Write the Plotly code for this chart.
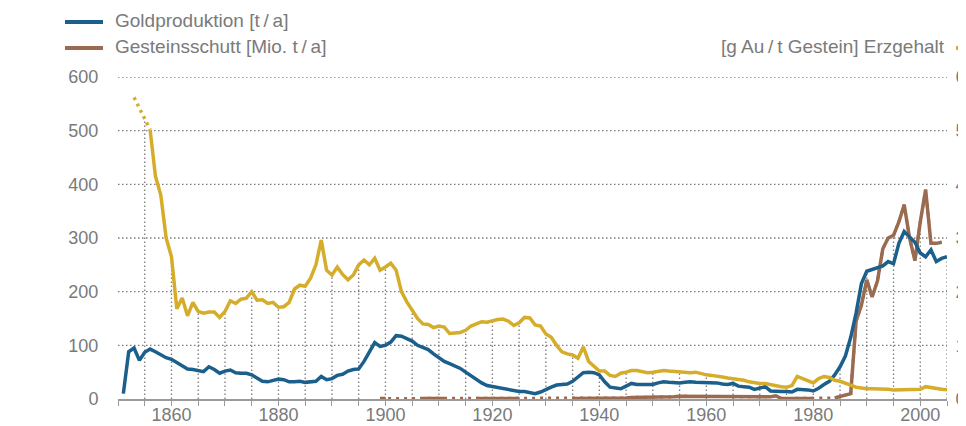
import plotly.graph_objects as go

# Goldproduktion [t/a], 1851-2005
gold_years = list(range(1851, 2006))
gold = [10, 88, 95, 72, 87, 93, 88, 82, 77, 74,
        68, 62, 56, 55, 53, 51, 60, 55, 48, 52,
        54, 49, 48, 48, 45, 39, 33, 32, 34, 37,
        36, 32, 32, 33, 31, 32, 33, 42, 36, 38,
        44, 46, 52, 55, 56, 70, 88, 105, 98, 100,
        106, 118, 117, 113, 108, 100, 96, 92, 84, 76,
        70, 66, 62, 57, 50, 43, 36, 30, 25, 23,
        21, 20, 18, 16, 14, 14, 12, 10, 13, 18,
        22, 26, 27, 28, 33, 42, 49, 50, 49, 45,
        32, 22, 20, 19, 24, 29, 27, 27, 26, 27,
        30, 32, 31, 30, 30, 31, 32, 31, 31, 31,
        31, 30, 28, 27, 29, 24, 23, 22, 18, 20,
        23, 15, 14, 14, 14, 13, 18, 18, 17, 15,
        20, 27, 33, 45, 60, 80, 115, 160, 215, 238,
        241, 244, 248, 256, 252, 290, 312, 302, 292, 272,
        265, 278, 256, 262, 265]

# Gesteinsschutt [Mio. t/a], 1898-2005 (None = keine Daten)
rock_years = list(range(1898, 2006))
rock = [None, 1, 1, None, None, None, None, None, None, 1,
        1, 1, 1, 1, None, None, None, None, None, 1,
        1, 1, 1, 1, 1, 1, 1, 1, None, None,
        None, None, None, None, None, None, None, 1, 1, 1,
        1, 2, 2, 2, 2, 2, 2, 2, 3, 3,
        3, 3, 3, 4, 4, 4, 4, 5, 5, 5,
        5, 5, 5, 5, 5, 5, 5, 5, 4, 4,
        4, 4, 4, 4, 4, 6, 1, 1, 1, 1,
        1, 1, 1, None, None, None, 2, 5, 8, 10,
        145, 175, 222, 190, 220, 280, 300, 305, 330, 362,
        300, 258, 330, 390, 290, 290, 292]

# Erzgehalt [g Au / t Gestein]
ore_est_years = [1853, 1854, 1855, 1856]
ore_est = [5.62, 5.42, 5.22, 5.02]
ore_years = list(range(1856, 2006))
ore = [5.02, 4.15, 3.80, 3.00, 2.65, 1.68, 1.88, 1.55, 1.80, 1.63,
       1.60, 1.62, 1.62, 1.52, 1.63, 1.83, 1.78, 1.86, 1.88, 2.00,
       1.84, 1.85, 1.78, 1.80, 1.71, 1.72, 1.80, 2.05, 2.12, 2.10,
       2.25, 2.50, 2.96, 2.40, 2.31, 2.46, 2.32, 2.22, 2.31, 2.50,
       2.59, 2.50, 2.62, 2.40, 2.46, 2.53, 2.40, 2.00, 1.81, 1.66,
       1.50, 1.40, 1.39, 1.33, 1.36, 1.34, 1.22, 1.23, 1.24, 1.28,
       1.36, 1.40, 1.44, 1.43, 1.46, 1.48, 1.49, 1.45, 1.37, 1.42,
       1.52, 1.51, 1.38, 1.36, 1.21, 1.15, 1.00, 0.88, 0.84, 0.82,
       0.76, 0.97, 0.70, 0.62, 0.52, 0.52, 0.44, 0.42, 0.48, 0.50,
       0.53, 0.53, 0.51, 0.49, 0.50, 0.51, 0.53, 0.52, 0.51, 0.51,
       0.50, 0.49, 0.50, 0.47, 0.45, 0.44, 0.43, 0.41, 0.39, 0.38,
       0.37, 0.35, 0.32, 0.30, 0.29, 0.29, 0.27, 0.24, 0.23, 0.22,
       0.25, 0.42, 0.38, 0.33, 0.30, 0.38, 0.42, 0.40, 0.35, 0.33,
       0.30, 0.26, 0.22, 0.20, 0.19, 0.19, 0.19, 0.18, 0.18, 0.17,
       0.17, 0.17, 0.17, 0.17, 0.18, 0.23, 0.21, 0.19, 0.18, 0.17]

x_ticks = [1860, 1880, 1900, 1920, 1940, 1960, 1980, 2000]
left_ticks = [0, 100, 200, 300, 400, 500, 600]
right_ticks = [0, 1, 2, 3, 4, 5, 6]
x_range = [1850, 2005]

BLUE = "#1b5f8c"
BROWN = "#9b6b50"
YELLOW = "#d5ad2b"
GREY = "#7a7a7a"
DOTS = "#7c7c7c"
FONT = "Liberation Sans, Arial, sans-serif"

# the page body has an 8px margin, so the figure starts at (8, 8)
OFF = 8
W, H = 966 - OFF, 426 - OFF
# plot area, in page pixels
L, R, T, B = 118, 947, 77, 399


def px(x):
    return (x - L) / (R - L)


def py(y):
    return (B - y) / (B - T)


# dotted drop lines every 5 years, up to the highest curve
lookup = {}
for yr, v in zip(gold_years, gold):
    lookup.setdefault(yr, []).append(v)
for yr, v in zip(rock_years, rock):
    if v is not None:
        lookup.setdefault(yr, []).append(v)
for yr, v in zip(ore_years + ore_est_years, ore + ore_est):
    lookup.setdefault(yr, []).append(v * 100)
drop_x, drop_y = [], []
for yr in range(1855, 2006, 5):
    drop_x += [yr, yr, None]
    drop_y += [0, max(lookup[yr]), None]

# dotted horizontal grid
grid_x, grid_y = [], []
for v in left_ticks[1:]:
    grid_x += [x_range[0], x_range[1], None]
    grid_y += [v, v, None]

fig = go.Figure()

fig.add_trace(go.Scatter(x=grid_x, y=grid_y, mode="lines", hoverinfo="skip",
                         line=dict(color=DOTS, width=1.3, dash="1.5px,2.5px"),
                         showlegend=False))
fig.add_trace(go.Scatter(x=drop_x, y=drop_y, mode="lines", hoverinfo="skip",
                         line=dict(color=DOTS, width=1.3, dash="1.5px,2.5px"),
                         showlegend=False))

# Gesteinsschutt: dotted where data are missing, solid where present
fig.add_trace(go.Scatter(x=rock_years, y=rock, mode="lines", connectgaps=True,
                         line=dict(color=BROWN, width=3, dash="3px,5px"),
                         showlegend=False))
fig.add_trace(go.Scatter(x=rock_years, y=rock, mode="lines",
                         line=dict(color=BROWN, width=3.5),
                         name="Gesteinsschutt [Mio. t/a]", showlegend=False))

fig.add_trace(go.Scatter(x=gold_years, y=gold, mode="lines",
                         line=dict(color=BLUE, width=3.5),
                         name="Goldproduktion [t/a]", showlegend=False))

fig.add_trace(go.Scatter(x=ore_est_years, y=ore_est, mode="lines", yaxis="y2",
                         line=dict(color=YELLOW, width=3.5, dash="3px,4px"),
                         showlegend=False))
fig.add_trace(go.Scatter(x=ore_years, y=ore, mode="lines", yaxis="y2",
                         line=dict(color=YELLOW, width=3.5),
                         name="Erzgehalt [g Au/t Gestein]", showlegend=False))

# legend built by hand
legend_rows = [
    (BLUE, "Goldproduktion [t\u2009/\u2009a]", 22),
    (BROWN, "Gesteinsschutt [Mio. t\u2009/\u2009a]", 48),
]
for color, text, y in legend_rows:
    fig.add_shape(type="line", xref="paper", yref="paper",
                  x0=px(65), x1=px(103), y0=py(y), y1=py(y),
                  line=dict(color=color, width=4))
    fig.add_annotation(x=px(113), y=py(y - 1), xref="paper", yref="paper",
                       text=text, showarrow=False, xanchor="left", yanchor="middle",
                       font=dict(size=19, color=GREY, family=FONT))
fig.add_shape(type="line", xref="paper", yref="paper",
              x0=px(956), x1=px(975), y0=py(48), y1=py(48),
              line=dict(color=YELLOW, width=4))
fig.add_annotation(x=px(947), y=py(47), xref="paper", yref="paper",
                   text="[g Au\u2009/\u2009t Gestein] Erzgehalt", showarrow=False,
                   xanchor="right", yanchor="middle",
                   font=dict(size=19, color=GREY, family=FONT))

fig.update_layout(
    width=W, height=H,
    margin=dict(l=L - OFF, r=966 - R, t=T - OFF, b=426 - B, pad=0),
    paper_bgcolor="white", plot_bgcolor="white",
    showlegend=False,
    font=dict(family=FONT, size=18, color=GREY),
    xaxis=dict(range=x_range, tickvals=x_ticks, showgrid=False,
               showline=True, linecolor="#9a9a9a", linewidth=1.5,
               ticks="outside", ticklen=5, tickcolor="#9a9a9a",
               ticklabelstandoff=-6,
               minor=dict(dtick=5, tick0=1850, ticks="outside", ticklen=5,
                          tickcolor="#9a9a9a"),
               zeroline=False, automargin=False, fixedrange=True),
    yaxis=dict(range=[0, 600], tickvals=left_ticks, showgrid=False,
               zeroline=False, showline=False,
               ticks="outside", ticklen=15, tickcolor="rgba(0,0,0,0)",
               automargin=False, fixedrange=True),
    yaxis2=dict(range=[0, 6], tickvals=right_ticks, overlaying="y", side="right",
                showgrid=False, zeroline=False, showline=False,
                ticks="outside", ticklen=4, tickcolor="rgba(0,0,0,0)",
                automargin=False, fixedrange=True),
)

fig.write_html("out.html")
